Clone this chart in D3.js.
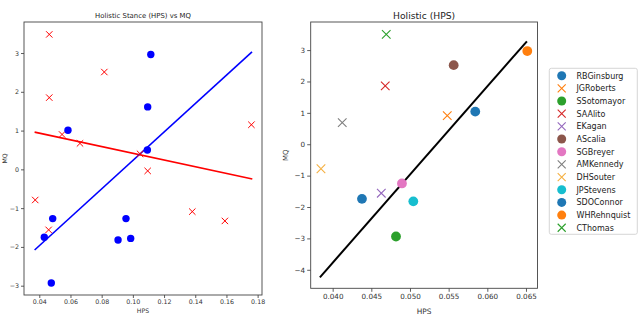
<!DOCTYPE html>
<html><head><meta charset="utf-8">
<script src="https://cdn.jsdelivr.net/npm/d3@7"></script>
<style>body{margin:0;background:#fff}svg{display:block;font-family:"DejaVu Sans",sans-serif}</style>
</head><body><svg id="c" width="640" height="318"></svg>
<script>
// ---- Left chart data ----
const leftCircleHPS = [0.1115,0.1095,0.0584,0.1093,0.0486,0.0432,0.0477,0.0956,0.0905,0.0986];
const leftCircleMQ  = [2.96,1.61,1.01,0.50,-1.27,-1.75,-2.93,-1.27,-1.82,-1.78];
const leftCrossHPS  = [0.0464,0.0817,0.0464,0.1760,0.0546,0.0661,0.1046,0.1095,0.0374,0.0460,0.1381,0.1590];
const leftCrossMQ   = [3.48,2.51,1.85,1.15,0.90,0.67,0.40,-0.04,-0.79,-1.56,-1.09,-1.33];
const blueFitHPS = [0.0370,0.1764];
const blueFitMQ  = [-2.08,3.03];
const redFitHPS  = [0.0370,0.1766];
const redFitMQ   = [0.96,-0.25];
const leftXTicks = [0.04,0.06,0.08,0.10,0.12,0.14,0.16,0.18];
const leftYTicks = [-3,-2,-1,0,1,2,3];

// ---- Right chart data ----
const justices = ["RBGinsburg","JGRoberts","SSotomayor","SAAlito","EKagan","AScalia","SGBreyer","AMKennedy","DHSouter","JPStevens","SDOConnor","WHRehnquist","CThomas"];
const justiceHPS = [0.05844,0.05482,0.04819,0.04680,0.04629,0.05565,0.04896,0.04124,0.03849,0.05043,0.04379,0.06517,0.04693];
const justiceMQ  = [1.04,0.91,-2.94,1.86,-1.56,2.52,-1.25,0.69,-0.78,-1.82,-1.74,2.97,3.50];
const justiceMarker = ["o","x","o","x","x","o","o","x","x","o","o","o","x"];
const justiceColor = ["#1f77b4","#ff7f0e","#2ca02c","#d62728","#9467bd","#8c564b","#e377c2","#7f7f7f","#f5b041","#17becf","#1f77b4","#ff7f0e","#2ca02c"];
const fitHPS = [0.03835,0.06512];
const fitMQ  = [-4.24,3.28];
const rightXTicks = [0.040,0.045,0.050,0.055,0.060,0.065];
const rightYTicks = [-4,-3,-2,-1,0,1,2,3];

const svg = d3.select("#c");
const fmtMinus = s => s.replace("-", "\u2212");

function xMark(g, cx, cy, r, color, w){
  g.append("path").attr("d",`M${cx-r},${cy-r}L${cx+r},${cy+r}M${cx-r},${cy+r}L${cx+r},${cy-r}`)
   .attr("stroke",color).attr("stroke-width",w).attr("fill","none");
}

function axes(g, x, y, xt, yt, xfmt, fs, tickLen, frame){
  const xa = g.append("g").attr("transform",`translate(0,${frame.b})`)
    .call(d3.axisBottom(x).tickValues(xt).tickFormat(xfmt).tickSizeOuter(0).tickSize(tickLen).tickPadding(2));
  const ya = g.append("g").attr("transform",`translate(${frame.l},0)`)
    .call(d3.axisLeft(y).tickValues(yt).tickFormat(d=>fmtMinus(String(d))).tickSizeOuter(0).tickSize(tickLen).tickPadding(2));
  [xa,ya].forEach(a=>{
    a.select(".domain").remove();
    a.selectAll("line").attr("stroke","#333").attr("stroke-width",0.8);
    a.selectAll("text").attr("font-size",fs).attr("fill","#333").attr("font-family","DejaVu Sans");
  });
  g.append("rect").attr("x",frame.l).attr("y",frame.t).attr("width",frame.r-frame.l).attr("height",frame.b-frame.t)
   .attr("fill","none").attr("stroke","#444").attr("stroke-width",0.9);
}

// ---- Left chart ----
{
  const F = {l:24,r:262,t:22,b:295};
  const x = d3.scaleLinear().domain([0.0302,0.1828]).range([F.l,F.r]);
  const y = d3.scaleLinear().domain([-3.24,3.80]).range([F.b,F.t]);
  const g = svg.append("g");
  axes(g,x,y,leftXTicks,leftYTicks,d3.format(".2f"),6.3,3,F);
  const line = d3.line().x(d=>x(d[0])).y(d=>y(d[1]));
  g.append("path").attr("d",line(d3.zip(redFitHPS,redFitMQ))).attr("stroke","#ff0000").attr("stroke-width",1.6).attr("fill","none");
  g.append("path").attr("d",line(d3.zip(blueFitHPS,blueFitMQ))).attr("stroke","#0000ff").attr("stroke-width",1.6).attr("fill","none");
  leftCrossHPS.forEach((h,i)=>xMark(g,x(h),y(leftCrossMQ[i]),3.2,"#ff0000",1));
  leftCircleHPS.forEach((h,i)=>g.append("circle").attr("cx",x(h)).attr("cy",y(leftCircleMQ[i])).attr("r",3.7).attr("fill","#0000ff"));
  g.append("text").attr("x",(F.l+F.r)/2).attr("y",17.5).attr("text-anchor","middle").attr("font-size",6.9).attr("fill","#222").text("Holistic Stance (HPS) vs MQ");
  g.append("text").attr("x",(F.l+F.r)/2).attr("y",313).attr("text-anchor","middle").attr("font-size",6.2).attr("fill","#333").text("HPS");
  g.append("text").attr("transform",`translate(7,${(F.t+F.b)/2}) rotate(-90)`).attr("text-anchor","middle").attr("font-size",6.2).attr("fill","#333").text("MQ");
}

// ---- Right chart ----
{
  const F = {l:310.7,r:537.5,t:22,b:288.3};
  const x = d3.scaleLinear().domain([0.03716,0.06649]).range([F.l,F.r]);
  const y = d3.scaleLinear().domain([-4.59,3.895]).range([F.b,F.t]);
  const g = svg.append("g");
  axes(g,x,y,rightXTicks,rightYTicks,d3.format(".3f"),7.2,3.5,F);
  const line = d3.line().x(d=>x(d[0])).y(d=>y(d[1]));
  g.append("path").attr("d",line(d3.zip(fitHPS,fitMQ))).attr("stroke","#000").attr("stroke-width",2).attr("fill","none");
  justices.forEach((n,i)=>{
    const cx=x(justiceHPS[i]), cy=y(justiceMQ[i]);
    if(justiceMarker[i]==="o") g.append("circle").attr("cx",cx).attr("cy",cy).attr("r",4.9).attr("fill",justiceColor[i]);
    else xMark(g,cx,cy,4.3,justiceColor[i],1.1);
  });
  g.append("text").attr("x",(F.l+F.r)/2).attr("y",19).attr("text-anchor","middle").attr("font-size",9.2).attr("fill","#222").text("Holistic (HPS)");
  g.append("text").attr("x",(F.l+F.r)/2).attr("y",314).attr("text-anchor","middle").attr("font-size",7.4).attr("fill","#333").text("HPS");
  g.append("text").attr("transform",`translate(288,${(F.t+F.b)/2}) rotate(-90)`).attr("text-anchor","middle").attr("font-size",7).attr("fill","#333").text("MQ");

  // legend
  const L = g.append("g");
  L.append("rect").attr("x",549.3).attr("y",68.3).attr("width",88).attr("height",166).attr("rx",2)
    .attr("fill","#fff").attr("stroke","#ccc").attr("stroke-width",0.8);
  justices.forEach((n,i)=>{
    const cy = 75.7 + i*12.67, cx = 561.7;
    if(justiceMarker[i]==="o") L.append("circle").attr("cx",cx).attr("cy",cy).attr("r",4.5).attr("fill",justiceColor[i]);
    else xMark(L,cx,cy,4,justiceColor[i],1.1);
    L.append("text").attr("x",576.5).attr("y",cy).attr("dy","0.35em").attr("font-size",8).attr("fill","#222").text(n);
  });
}
</script></body></html>
